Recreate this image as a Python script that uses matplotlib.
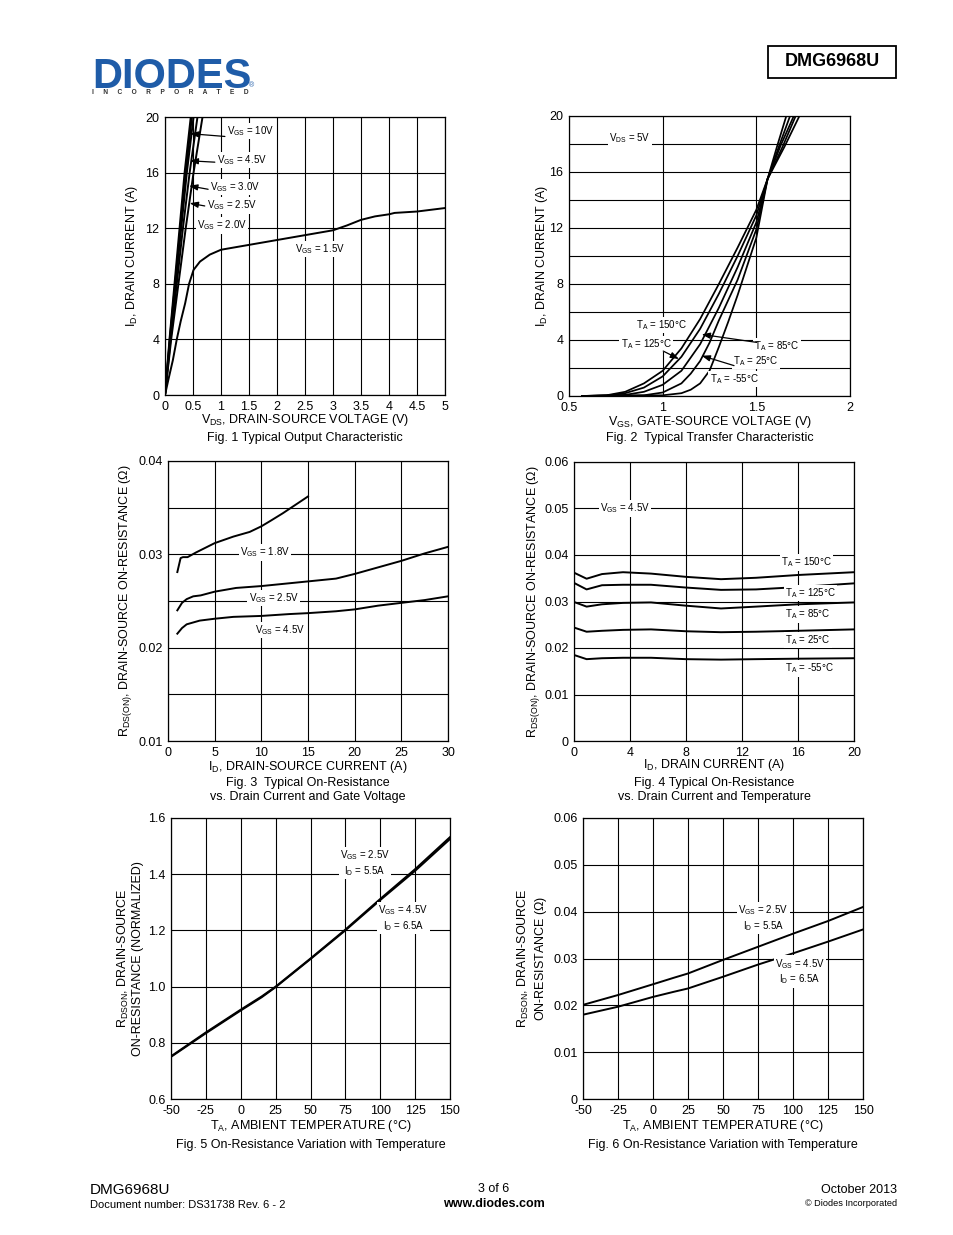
import numpy as np
import matplotlib
matplotlib.use('Agg')
import matplotlib.pyplot as plt
from matplotlib.patches import Rectangle

plt.rcParams['font.family'] = ['Liberation Sans', 'DejaVu Sans']
plt.rcParams['mathtext.fontset'] = 'custom'
plt.rcParams['mathtext.rm'] = 'Liberation Sans'
plt.rcParams['mathtext.it'] = 'Liberation Sans:italic'
plt.rcParams['mathtext.bf'] = 'Liberation Sans:bold'

# ---- Fig 1: output characteristic ----
id1_steep = [0, 4, 8, 12, 16, 20]
vds_10v = [0, 0.08, 0.17, 0.26, 0.35, 0.46]
vds_45v = [0, 0.085, 0.18, 0.275, 0.37, 0.48]
vds_30v = [0, 0.09, 0.19, 0.29, 0.39, 0.51]
vds_25v = [0, 0.10, 0.21, 0.32, 0.44, 0.58]
vds_20v = [0, 0.11, 0.24, 0.37, 0.51, 0.67]
vds_15v = [0, 0.06, 0.14, 0.21, 0.28, 0.36, 0.43, 0.51, 0.625, 0.8, 1.0, 1.5, 2.0,
           2.5, 3.0, 3.25, 3.5, 3.75, 4.0, 4.1, 4.5, 5.0]
id_15v = [0, 1.1, 2.5, 4.0, 5.3, 6.6, 8.0, 9.0, 9.6, 10.1, 10.45, 10.8, 11.15,
          11.5, 11.85, 12.2, 12.6, 12.85, 13.0, 13.1, 13.2, 13.45]

# ---- Fig 2: transfer characteristic ----
vgs_150 = [0.57, 0.7, 0.8, 0.9, 1.0, 1.1, 1.2, 1.3, 1.4, 1.5, 1.56, 1.65, 1.73]
id_150 = [0, 0.05, 0.3, 0.9, 1.8, 3.4, 5.5, 8.0, 10.6, 13.3, 15.5, 17.8, 20]
vgs_125 = [0.57, 0.7, 0.8, 0.9, 1.0, 1.1, 1.2, 1.3, 1.4, 1.5, 1.56, 1.64, 1.71]
id_125 = [0, 0.03, 0.2, 0.6, 1.4, 2.8, 4.8, 7.3, 10.0, 12.9, 15.5, 17.8, 20]
vgs_85 = [0.57, 0.8, 0.9, 1.0, 1.1, 1.2, 1.3, 1.4, 1.5, 1.56, 1.63, 1.70]
id_85 = [0, 0.08, 0.3, 0.8, 1.8, 3.7, 6.3, 9.2, 12.4, 15.5, 17.9, 20]
vgs_25 = [0.57, 0.9, 1.0, 1.1, 1.15, 1.2, 1.25, 1.3, 1.4, 1.5, 1.56, 1.62, 1.68]
id_25 = [0, 0.05, 0.25, 0.9, 1.6, 2.5, 3.8, 5.4, 8.3, 11.9, 15.5, 17.8, 20]
vgs_m55 = [0.57, 1.0, 1.1, 1.15, 1.2, 1.25, 1.3, 1.35, 1.4, 1.5, 1.56, 1.61, 1.66]
id_m55 = [0, 0.05, 0.2, 0.45, 0.9, 1.8, 3.5, 5.3, 7.2, 11.3, 15.5, 17.8, 20]

# ---- Fig 3: Rds(on) vs Id and Vgs ----
id3_18 = [1, 1.35, 1.6, 2.1, 3, 5, 7, 8.75, 10, 11, 12.3, 13.5, 15]
r3_18 = [0.0281, 0.0296, 0.0297, 0.0297, 0.0302, 0.0312, 0.0319, 0.0324, 0.0330,
         0.0336, 0.0344, 0.0352, 0.0362]
id3_25 = [1, 1.5, 2, 2.7, 3.5, 5, 7.3, 10, 13, 15, 18, 20, 22.5, 25, 27.5, 30]
r3_25 = [0.0240, 0.0248, 0.0252, 0.0255, 0.0256, 0.0260, 0.0264, 0.0266, 0.0269,
         0.0271, 0.0274, 0.0279, 0.0286, 0.0293, 0.0301, 0.0308]
id3_45 = [1, 1.5, 2, 3.4, 5, 7, 10, 13, 15, 18, 20, 22.5, 25, 27.5, 30]
r3_45 = [0.0215, 0.0221, 0.0225, 0.0229, 0.0231, 0.0233, 0.0234, 0.0236, 0.0237,
         0.0239, 0.0241, 0.0245, 0.0248, 0.0251, 0.0255]

# ---- Fig 4: Rds(on) vs Id and temperature ----
id4 = [0, 0.9, 2, 3.5, 5.5, 8, 10.5, 13, 16, 20]
r4_150 = [0.0362, 0.0349, 0.0359, 0.0363, 0.0360, 0.0353, 0.0348, 0.0351, 0.0357, 0.0363]
r4_125 = [0.0340, 0.0326, 0.0335, 0.0336, 0.0336, 0.0330, 0.0325, 0.0326, 0.0331, 0.0339]
r4_85 = [0.0299, 0.0289, 0.0294, 0.0297, 0.0298, 0.0291, 0.0285, 0.0289, 0.0294, 0.0298]
r4_25 = [0.0244, 0.0235, 0.0237, 0.0239, 0.0240, 0.0236, 0.0234, 0.0235, 0.0237, 0.0240]
r4_m55 = [0.0185, 0.0176, 0.0178, 0.0179, 0.0179, 0.0176, 0.0175, 0.0176, 0.0177, 0.0178]

# ---- Fig 5 / Fig 6: Rds(on) vs temperature ----
temp = [-50, -25, 0, 15, 25, 50, 75, 100, 125, 150]
r5_25 = [0.752, 0.837, 0.918, 0.965, 1.0, 1.10, 1.203, 1.312, 1.418, 1.532]
r5_45 = [0.750, 0.834, 0.915, 0.962, 0.998, 1.098, 1.200, 1.308, 1.412, 1.525]
r6_25 = [0.0201, 0.0222, 0.0245, 0.0259, 0.0268, 0.0297, 0.0325, 0.0353, 0.0380, 0.0410]
r6_45 = [0.0180, 0.0197, 0.0218, 0.0229, 0.0236, 0.0261, 0.0287, 0.0311, 0.0336, 0.0362]

# tick labels
x1_ticks = ['0', '0.5', '1', '1.5', '2', '2.5', '3', '3.5', '4', '4.5', '5']
y_amp_ticks = ['0', '4', '8', '12', '16', '20']
x2_ticks = ['0.5', '1', '1.5', '2']
x3_ticks = ['0', '5', '10', '15', '20', '25', '30']
y3_ticks = ['0.01', '0.02', '0.03', '0.04']
x4_ticks = ['0', '4', '8', '12', '16', '20']
y_ohm_ticks = ['0', '0.01', '0.02', '0.03', '0.04', '0.05', '0.06']
x_temp_ticks = ['-50', '-25', '0', '25', '50', '75', '100', '125', '150']
y5_ticks = ['0.6', '0.8', '1.0', '1.2', '1.4', '1.6']

W, H = 954, 1235
fig = plt.figure(figsize=(W / 100, H / 100), dpi=100)
LW = 1.4


def add_ax(l, t, r, b):
    return fig.add_axes([l / W, 1 - b / H, (r - l) / W, (b - t) / H])


def setup(ax, xlim, ylim, xt, xl, yt, yl, xg, yg):
    ax.set_xlim(xlim)
    ax.set_ylim(ylim)
    ax.set_xticks(xt)
    ax.set_xticklabels(xl)
    ax.set_yticks(yt)
    ax.set_yticklabels(yl)
    ax.set_xticks(xg, minor=True)
    ax.set_yticks(yg, minor=True)
    ax.grid(True, which='both', color='black', lw=0.8)
    ax.set_axisbelow(True)
    ax.tick_params(which='both', length=0, labelsize=9, pad=4)
    for s in ax.spines.values():
        s.set_linewidth(0.9)


def labels(ax, xlab, xy, ylab, yx, caps, cys):
    # x label and caption lines placed by baseline, in axes fractions
    ax.text(0.5, xy, xlab, transform=ax.transAxes, ha='center', va='baseline', fontsize=9)
    ax.text(yx, 0.5, ylab, transform=ax.transAxes, ha='center', va='center',
            fontsize=9, rotation=90, multialignment='center')
    for c, cy in zip(caps, cys):
        ax.text(0.5, cy, c, transform=ax.transAxes, ha='center', va='baseline', fontsize=9)


def note(ax, x, y, s, ha='center'):
    ax.text(x, y, s, fontsize=7, ha=ha, va='center', multialignment='center',
            bbox=dict(fc='white', ec='none', pad=1.0))


def arrow(ax, tail, tip):
    ax.annotate('', xy=tip, xytext=tail,
                arrowprops=dict(arrowstyle='-|>,head_length=0.5,head_width=0.18',
                                color='black', lw=0.9, shrinkA=0, shrinkB=0))


# Fig 1
ax1 = add_ax(165, 117, 445, 395)
setup(ax1, (0, 5), (0, 20), np.arange(0, 5.01, 0.5), x1_ticks,
      np.arange(0, 21, 4), y_amp_ticks, [], [])
for v in [vds_10v, vds_45v, vds_30v, vds_25v, vds_20v]:
    ax1.plot(v, id1_steep, color='black', lw=LW)
ax1.plot(vds_15v, id_15v, color='black', lw=LW)
note(ax1, 1.1, 19.0, r'V$_{\mathrm{GS}}$ = 10V', ha='left')
arrow(ax1, (1.07, 18.6), (0.45, 18.8))
note(ax1, 0.93, 16.9, r'V$_{\mathrm{GS}}$ = 4.5V', ha='left')
arrow(ax1, (0.89, 16.75), (0.44, 16.85))
note(ax1, 0.80, 14.95, r'V$_{\mathrm{GS}}$ = 3.0V', ha='left')
arrow(ax1, (0.77, 14.8), (0.43, 15.05))
note(ax1, 0.75, 13.65, r'V$_{\mathrm{GS}}$ = 2.5V', ha='left')
arrow(ax1, (0.71, 13.6), (0.44, 13.8))
note(ax1, 0.57, 12.2, r'V$_{\mathrm{GS}}$ = 2.0V', ha='left')
note(ax1, 2.77, 10.5, r'V$_{\mathrm{GS}}$ = 1.5V')
labels(ax1, r'V$_{\mathrm{DS}}$, DRAIN-SOURCE VOLTAGE (V)', -0.1025,
       r'I$_{\mathrm{D}}$, DRAIN CURRENT (A)', -0.118,
       ['Fig. 1 Typical Output Characteristic'], [-0.167])

# Fig 2
ax2 = add_ax(569, 116, 850, 396)
setup(ax2, (0.5, 2), (0, 20), [0.5, 1, 1.5, 2], x2_ticks,
      np.arange(0, 21, 4), y_amp_ticks, [], np.arange(2, 20, 4))
for v, i in [(vgs_150, id_150), (vgs_125, id_125), (vgs_85, id_85),
             (vgs_25, id_25), (vgs_m55, id_m55)]:
    ax2.plot(v, i, color='black', lw=LW * 0.9)
note(ax2, 0.826, 18.4, r'V$_{\mathrm{DS}}$ = 5V')
note(ax2, 0.991, 5.07, r'T$_{\mathrm{A}}$ = 150°C')
note(ax2, 0.911, 3.71, r'T$_{\mathrm{A}}$ = 125°C')
arrow(ax2, (1.003, 3.21), (1.087, 2.64))
note(ax2, 1.61, 3.57, r'T$_{\mathrm{A}}$ = 85°C')
arrow(ax2, (1.502, 3.83), (1.208, 4.4))
note(ax2, 1.498, 2.5, r'T$_{\mathrm{A}}$ = 25°C')
arrow(ax2, (1.381, 2.17), (1.208, 2.88))
note(ax2, 1.381, 1.21, r'T$_{\mathrm{A}}$ = -55°C')
labels(ax2, r'V$_{\mathrm{GS}}$, GATE-SOURCE VOLTAGE (V)', -0.105,
       r'I$_{\mathrm{D}}$, DRAIN CURRENT (A)', -0.096,
       ['Fig. 2  Typical Transfer Characteristic'], [-0.1625])

# Fig 3
ax3 = add_ax(168, 461, 448, 741)
setup(ax3, (0, 30), (0.01, 0.04), np.arange(0, 31, 5), x3_ticks,
      [0.01, 0.02, 0.03, 0.04], y3_ticks, [], [0.015, 0.025, 0.035])
ax3.plot(id3_18, r3_18, color='black', lw=LW)
ax3.plot(id3_25, r3_25, color='black', lw=LW)
ax3.plot(id3_45, r3_45, color='black', lw=LW)
note(ax3, 10.4, 0.0302, r'V$_{\mathrm{GS}}$ = 1.8V')
note(ax3, 11.3, 0.0253, r'V$_{\mathrm{GS}}$ = 2.5V')
note(ax3, 12.0, 0.0219, r'V$_{\mathrm{GS}}$ = 4.5V')
labels(ax3, r'I$_{\mathrm{D}}$, DRAIN-SOURCE CURRENT (A)', -0.105,
       r'R$_{\mathrm{DS(ON)}}$, DRAIN-SOURCE ON-RESISTANCE ($\Omega$)', -0.15,
       ['Fig. 3  Typical On-Resistance', 'vs. Drain Current and Gate Voltage'],
       [-0.159, -0.209])

# Fig 4
ax4 = add_ax(574, 462, 854, 741)
setup(ax4, (0, 20), (0, 0.06), np.arange(0, 21, 4), x4_ticks,
      np.arange(0, 0.061, 0.01), y_ohm_ticks, [], [])
for r in [r4_150, r4_125, r4_85, r4_25, r4_m55]:
    ax4.plot(id4, r, color='black', lw=LW)
note(ax4, 3.64, 0.0500, r'V$_{\mathrm{GS}}$ = 4.5V')
note(ax4, 16.6, 0.0384, r'T$_{\mathrm{A}}$ = 150°C')
note(ax4, 16.9, 0.0318, r'T$_{\mathrm{A}}$ = 125°C')
note(ax4, 16.7, 0.0272, r'T$_{\mathrm{A}}$ = 85°C')
note(ax4, 16.7, 0.0217, r'T$_{\mathrm{A}}$ = 25°C')
note(ax4, 16.8, 0.0156, r'T$_{\mathrm{A}}$ = -55°C')
labels(ax4, r'I$_{\mathrm{D}}$, DRAIN CURRENT (A)', -0.095,
       r'R$_{\mathrm{DS(ON)}}$, DRAIN-SOURCE ON-RESISTANCE ($\Omega$)', -0.143,
       ['Fig. 4 Typical On-Resistance', 'vs. Drain Current and Temperature'],
       [-0.163, -0.213])

# Fig 5
ax5 = add_ax(171, 818, 450, 1099)
setup(ax5, (-50, 150), (0.6, 1.6), np.arange(-50, 151, 25), x_temp_ticks,
      np.arange(0.6, 1.61, 0.2), y5_ticks, [], [])
ax5.plot(temp, r5_25, color='black', lw=LW)
ax5.plot(temp, r5_45, color='black', lw=LW)
note(ax5, 89, 1.439, 'V$_{\\mathrm{GS}}$ = 2.5V\nI$_{\\mathrm{D}}$ = 5.5A')
note(ax5, 116.5, 1.243, 'V$_{\\mathrm{GS}}$ = 4.5V\nI$_{\\mathrm{D}}$ = 6.5A')
labels(ax5, r'T$_{\mathrm{A}}$, AMBIENT TEMPERATURE (°C)', -0.105,
       'R$_{\\mathrm{DSON}}$, DRAIN-SOURCE\nON-RESISTANCE (NORMALIZED)', -0.147,
       ['Fig. 5 On-Resistance Variation with Temperature'], [-0.1726])

# Fig 6
ax6 = add_ax(583, 818, 863, 1099)
setup(ax6, (-50, 150), (0, 0.06), np.arange(-50, 151, 25), x_temp_ticks,
      np.arange(0, 0.061, 0.01), y_ohm_ticks, [], [])
ax6.plot(temp, r6_25, color='black', lw=LW)
ax6.plot(temp, r6_45, color='black', lw=LW)
note(ax6, 78.8, 0.0386, 'V$_{\\mathrm{GS}}$ = 2.5V\nI$_{\\mathrm{D}}$ = 5.5A')
note(ax6, 105, 0.0272, 'V$_{\\mathrm{GS}}$ = 4.5V\nI$_{\\mathrm{D}}$ = 6.5A')
labels(ax6, r'T$_{\mathrm{A}}$, AMBIENT TEMPERATURE (°C)', -0.1085,
       'R$_{\\mathrm{DSON}}$, DRAIN-SOURCE\nON-RESISTANCE ($\\Omega$)', -0.18,
       ['Fig. 6 On-Resistance Variation with Temperature'], [-0.1726])

# header: logo and part number box
blue = '#1f5ca8'
fig.text(92 / W, 1 - 88 / H, 'DIODES', fontsize=30, fontweight='bold', color=blue,
         va='baseline', ha='left')
fig.text(249 / W, 1 - 86 / H, '®', fontsize=5, color=blue, va='center', ha='left')
fig.text(170 / W, 1 - 92 / H, '     '.join('INCORPORATED'), fontsize=4.8,
         fontweight='bold', color='#333333', ha='center', va='center')
fig.add_artist(Rectangle((768 / W, 1 - 78 / H), 128 / W, 32 / H,
                         transform=fig.transFigure, fill=False, lw=1.3, ec='black'))
fig.text(832 / W, 1 - 62 / H, 'DMG6968U', fontsize=13, fontweight='bold',
         ha='center', va='center')

# footer
fig.text(90 / W, 1 - 1190 / H, 'DMG6968U', fontsize=11, ha='left', va='center')
fig.text(90 / W, 1 - 1205 / H, 'Document number: DS31738 Rev. 6 - 2', fontsize=8,
         ha='left', va='center')
fig.text(494 / W, 1 - 1189 / H, '3 of 6', fontsize=9, ha='center', va='center')
fig.text(494 / W, 1 - 1204 / H, 'www.diodes.com', fontsize=9, fontweight='bold',
         ha='center', va='center')
fig.text(897 / W, 1 - 1190 / H, 'October 2013', fontsize=9, ha='right', va='center')
fig.text(897 / W, 1 - 1204 / H, '© Diodes Incorporated', fontsize=6.6, ha='right',
         va='center')

fig.savefig('out.png', dpi=100)
